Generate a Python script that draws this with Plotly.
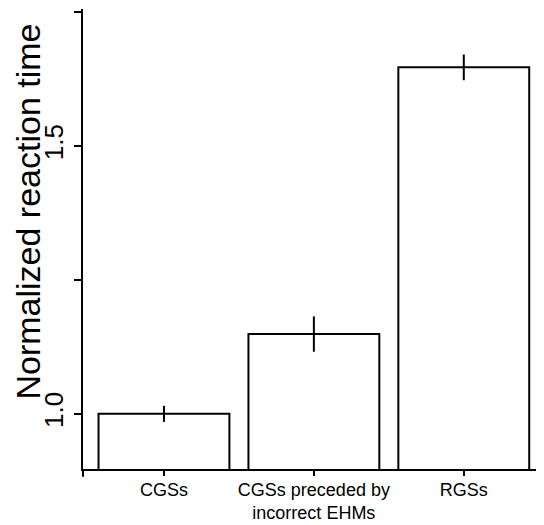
import plotly.graph_objects as go

categories = ["CGSs", "CGSs preceded by<br>incorrect EHMs", "RGSs"]
values = [1.0, 1.149, 1.647]
errors = [0.015, 0.033, 0.024]
y_tickvals = [1.0, 1.25, 1.5, 1.75]
y_ticktext = ["1.0", "", "1.5", ""]
y_title = "Normalized reaction time"

FONT = "Liberation Sans, Arial, Helvetica, sans-serif"

fig = go.Figure()
fig.add_trace(go.Bar(
    x=categories,
    y=values,
    width=0.873,
    marker=dict(color="white", line=dict(color="black", width=2)),
    error_y=dict(type="data", array=errors, visible=True, color="black",
                 thickness=2, width=0),
    showlegend=False,
))

# page body has an 8px margin, so the figure is offset by 8px
fig.update_layout(
    width=536, height=517,
    margin=dict(l=75, r=0, t=1, b=56),
    paper_bgcolor="white", plot_bgcolor="white",
    font=dict(family=FONT, color="black"),
    xaxis=dict(
        range=[-0.54, 2.535],
        showline=True, linecolor="black", linewidth=2,
        ticks="outside", ticklen=5, tickwidth=1.5, tickcolor="black",
        tickfont=dict(size=18, color="black", family=FONT),
        ticklabelstandoff=-2,
        showgrid=False, zeroline=False,
    ),
    yaxis=dict(
        range=[0.897, 1.756],
        tickvals=y_tickvals, ticktext=y_ticktext,
        tickangle=-90,
        showline=True, linecolor="black", linewidth=2,
        ticks="outside", ticklen=7, tickwidth=1.5, tickcolor="black",
        tickfont=dict(size=26, color="black", family=FONT),
        ticklabelstandoff=1,
        showgrid=False, zeroline=False,
    ),
    annotations=[dict(
        text=y_title, textangle=-90,
        xref="paper", yref="paper", x=-0.12, y=0.559,
        xanchor="center", yanchor="middle", showarrow=False,
        font=dict(size=34, color="black", family=FONT),
    )],
    shapes=[dict(type="line", xref="paper", yref="paper",
                 x0=0, x1=0, y0=0, y1=-0.017,
                 line=dict(color="black", width=2))],
)

fig.write_html("out.html")
